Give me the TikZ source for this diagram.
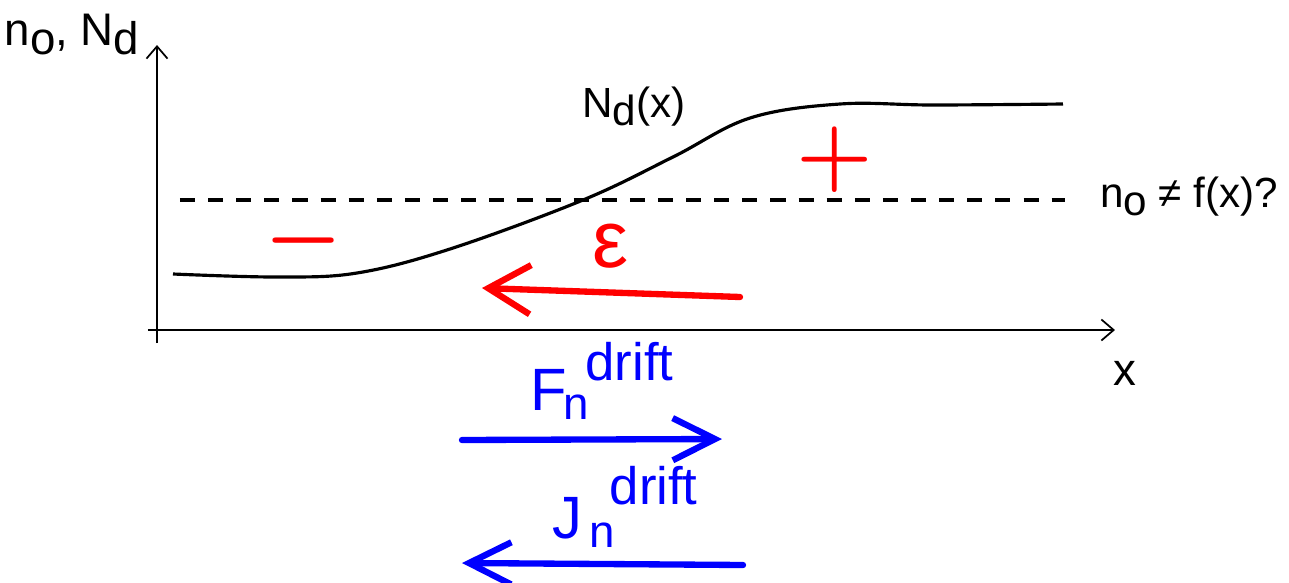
\documentclass[tikz,border=0pt]{standalone}
\usepackage{fontspec}
\setmainfont{Liberation Sans}
\usetikzlibrary{arrows.meta}

\definecolor{inkred}{RGB}{255,0,0}
\definecolor{inkblue}{RGB}{0,0,255}
\newcommand{\lowsub}[1]{\raisebox{-0.2em}{#1}}

\begin{document}
\begin{tikzpicture}[
	axis/.style={line width=0.5pt, -{Straight Barb[length=3.5pt,width=6pt]}},
	txt/.style={font=\fontsize{12}{14}\selectfont, inner sep=0pt},
	hand/.style={inner sep=0pt},
	redink/.style={draw=inkred, line width=1.8pt, line cap=round, -{Straight Barb[length=12pt,width=14pt]}},
	blueink/.style={draw=inkblue, line width=1.8pt, line cap=round, -{Straight Barb[length=12pt,width=12pt]}}
	]
	\useasboundingbox (-1.57,-2.52) rectangle (11.32,3.30);
	
	% axes
	\coordinate (xstart) at (-0.09,0);
	\coordinate (xend) at (9.58,0);
	\coordinate (ystart) at (0,-0.13);
	\coordinate (yend) at (0,2.85);
	\draw[axis] (xstart) -- (xend);
	\draw[axis] (ystart) -- (yend);
	\node[txt, font=\fontsize{13}{15}\selectfont, anchor=base] (ylab) at (-0.85,2.85) {n\lowsub{o}, N\lowsub{d}};
	\node[txt, font=\fontsize{13}{15}\selectfont, anchor=base] (xlab) at (9.68,-0.55) {x};
	
	% doping profile N_d(x)
	\draw[line width=0.9pt] plot[smooth, tension=0.6] coordinates {
		(0.16,0.56) (1.20,0.53) (2.00,0.57) (2.93,0.81) (4.26,1.30)
		(5.16,1.73) (5.93,2.12) (6.83,2.26) (7.76,2.25) (9.06,2.26)};
	\node[txt, anchor=base] (ndlab) at (4.77,2.13) {N\lowsub{d}(x)};
	
	% electron density level
	\coordinate (nstart) at (0.23,1.30);
	\coordinate (nend) at (9.08,1.30);
	\draw[line width=0.9pt, dash pattern=on 4.3pt off 3.7pt] (nstart) -- (nend);
	\node[txt, anchor=base] (nolab) at (10.32,1.23) {n\lowsub{o} ≠ f(x)?};
	
	% space charge and field
	\node[hand, text=inkred, font=\fontsize{32}{32}\selectfont\boldmath] (minus) at (1.47,0.89) {$-$};
	\node[hand, text=inkred, font=\fontsize{32}{32}\selectfont\boldmath] (plus) at (6.78,1.70) {$+$};
	\node[hand, text=inkred, font=\fontsize{23}{23}\selectfont] (field) at (4.54,0.84) {ε};
	\coordinate (etail) at (5.83,0.33);
	\coordinate (ehead) at (3.25,0.42);
	\draw[redink] (etail) -- (ehead);
	
	% drift flux and current
	\node[hand, text=inkblue, anchor=base west] (flab) at (3.73,-0.80)
		{\fontsize{17}{17}\selectfont F\kern-1pt\raisebox{-2.8pt}{\fontsize{13}{13}\selectfont n}\kern-1pt\raisebox{8.5pt}{\fontsize{15}{15}\selectfont drift}};
	\coordinate (ftail) at (3.05,-1.10);
	\coordinate (fhead) at (5.65,-1.09);
	\draw[blueink] (ftail) -- (fhead);
	
	\node[hand, text=inkblue, anchor=base west] (jlab) at (3.95,-2.08)
		{\fontsize{17}{17}\selectfont J\kern2pt\raisebox{-2.6pt}{\fontsize{13}{13}\selectfont n}\kern-1.5pt\raisebox{9.4pt}{\fontsize{15}{15}\selectfont drift}};
	\coordinate (jtail) at (5.86,-2.35);
	\coordinate (jhead) at (3.05,-2.33);
	\draw[blueink] (jtail) -- (jhead);
\end{tikzpicture}
\end{document}
